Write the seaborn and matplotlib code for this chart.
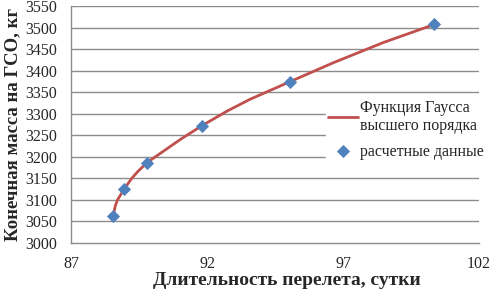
import numpy as np
import pandas as pd
import seaborn as sns
import matplotlib
matplotlib.use("Agg")
import matplotlib.pyplot as plt

# Расчетные данные (точки)
days = [88.55, 88.95, 89.80, 91.80, 95.05, 100.35]
mass = [3062, 3124, 3186, 3271, 3374, 3507]

# Аппроксимирующая кривая
curve_days = [88.55, 88.62, 88.70, 88.95, 89.23, 89.47, 89.80, 90.39, 91.05,
              91.80, 92.72, 93.58, 95.05, 96.64, 98.48, 100.35]
curve_mass = [3062, 3083, 3098, 3124, 3149, 3166, 3186, 3212, 3241,
              3271, 3305, 3333, 3374, 3418, 3465, 3507]

x_ticks = [87, 92, 97, 102]
y_ticks = list(range(3000, 3551, 50))

sns.set_style("white")
plt.rcParams['font.family'] = ['Liberation Serif', 'DejaVu Serif']

fig = plt.figure(figsize=(4.91, 2.96), dpi=100)
ax = fig.add_axes([0.1446, 0.1807, 0.8310, 0.7990])

grid_col = "#8c8c8c"
for yv in y_ticks[1:]:
    ax.axhline(yv, color=grid_col, lw=1.0, zorder=0)

sns.lineplot(x=curve_days, y=curve_mass, ax=ax, color="#C0504D", lw=2.0,
             label="Функция Гаусса\nвысшего порядка", zorder=2, sort=False)
ax.lines[-1].set_solid_joinstyle("round")
sns.scatterplot(x=days, y=mass, ax=ax, marker="D", color="#4F81BD", s=45,
                edgecolor="#4F81BD", linewidth=0, label="расчетные данные", zorder=3)

ax.set_xlim(87, 102)
ax.set_ylim(3000, 3550)
ax.set_xticks(x_ticks)
ax.set_yticks(y_ticks)
ax.tick_params(axis='both', labelsize=11.5, length=0, pad=10)

for s in ["top", "right"]:
    ax.spines[s].set_visible(False)
for s in ["left", "bottom"]:
    ax.spines[s].set_color(grid_col)
    ax.spines[s].set_linewidth(1.0)

ax.set_xlabel("Длительность перелета, сутки", fontsize=14, fontweight="bold")
ax.xaxis.set_label_coords(0.53, -0.125)
ax.set_ylabel("Конечная масса на ГСО, кг", fontsize=13.5, fontweight="bold", labelpad=3)

leg = ax.legend(loc="upper left", bbox_to_anchor=(318 / 491, 1 - 90 / 296), bbox_transform=fig.transFigure,
                frameon=True, fontsize=11.5, handlelength=1.9, handletextpad=0.15,
                borderpad=0.1, labelspacing=0.6, fancybox=False)
leg.get_frame().set_edgecolor("white")
leg.get_frame().set_facecolor("white")
leg.get_frame().set_alpha(1.0)
leg.set_zorder(5)
leg.set_clip_on(False)

fig.savefig("out.png", dpi=100)
